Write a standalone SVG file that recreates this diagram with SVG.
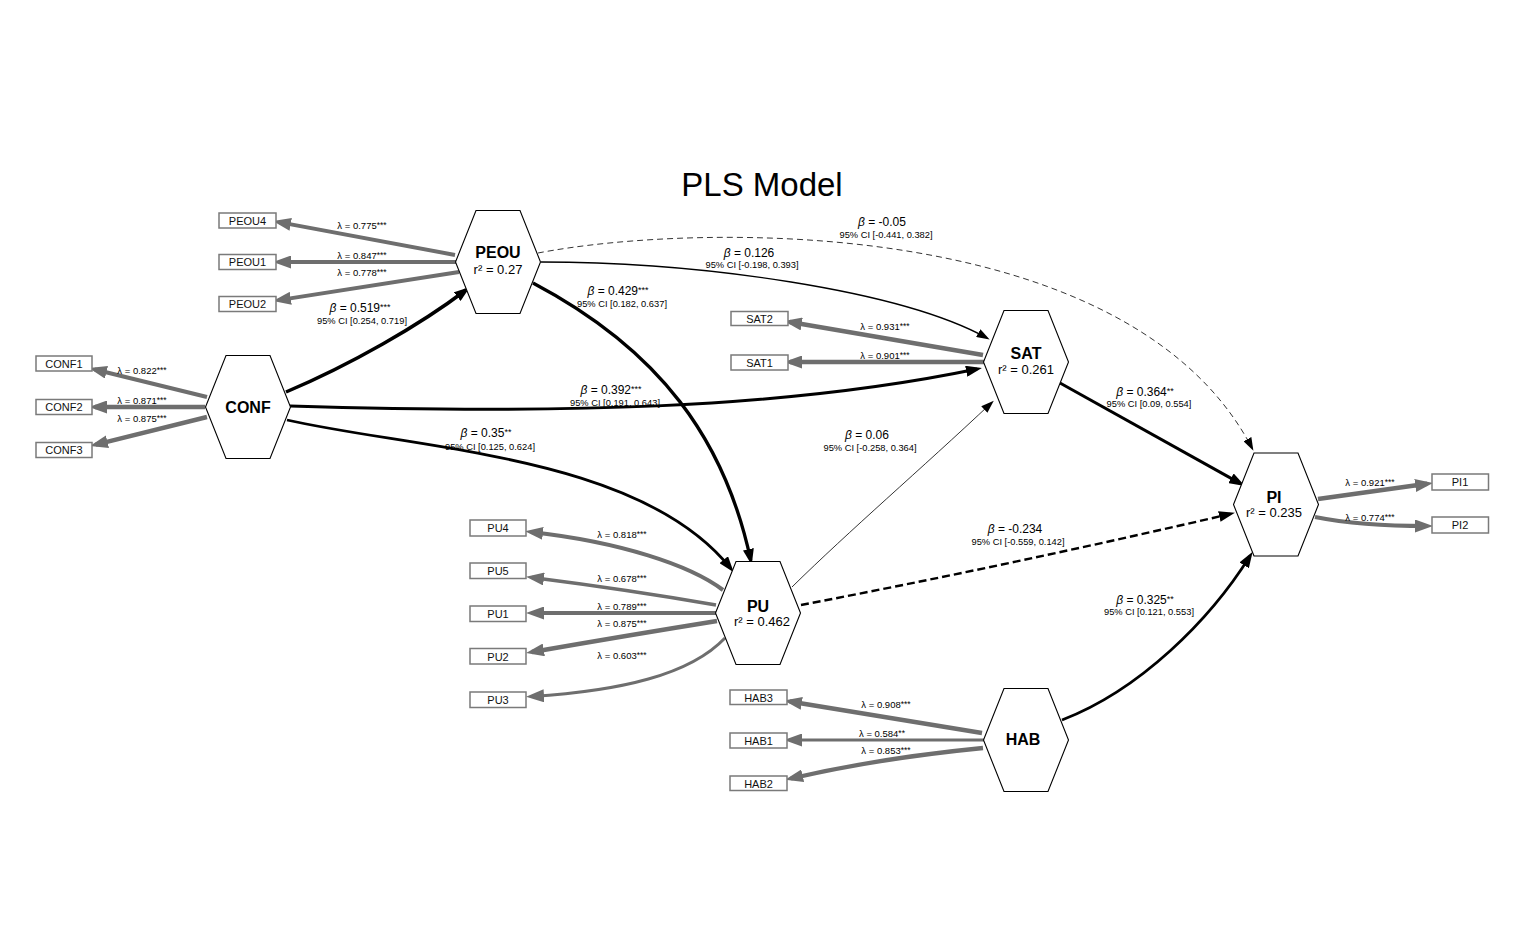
<svg xmlns="http://www.w3.org/2000/svg" width="1520" height="948" viewBox="0 0 1520 948">
<defs>
<style>
text{font-family:"Liberation Sans",Arial,Helvetica,sans-serif;fill:#000}
.title{font-size:33px}
.nm{font-size:16px;font-weight:bold;text-anchor:middle}
.r2{font-size:13px;text-anchor:middle}
.ind{font-size:11px;text-anchor:middle;fill:#111}
.lam{font-size:9.5px;text-anchor:middle}
.beta{font-size:12px;text-anchor:middle}
.ci{font-size:9.3px;text-anchor:middle}
.st{font-size:8.5px}
.hex{fill:#fff;stroke:#000;stroke-width:1.1}
.box{fill:#fff;stroke:#7a7a7a;stroke-width:1.5}
.ld{fill:none;stroke:#6e6e6e}
.sp{fill:none;stroke:#000}
.dash{stroke-dasharray:6,4}
</style>
<marker id="ga" markerUnits="userSpaceOnUse" markerWidth="18" markerHeight="13" refX="12" refY="6.5" orient="auto"><path d="M0,0 L18,6.5 L0,13 z" fill="#6e6e6e"/></marker>
<marker id="ba" markerUnits="userSpaceOnUse" markerWidth="16" markerHeight="11" refX="11" refY="5.5" orient="auto"><path d="M0,0 L16,5.5 L0,11 z" fill="#000"/></marker>
<marker id="bs" markerUnits="userSpaceOnUse" markerWidth="13" markerHeight="9" refX="10" refY="4.5" orient="auto"><path d="M0,0 L13,4.5 L0,9 z" fill="#000"/></marker>
</defs>
<rect width="1520" height="948" fill="#fff"/>
<text class="title" x="762" y="196" text-anchor="middle">PLS Model</text>

<g id="connectors">
<path class="ld" stroke-width="3.9" d="M455,255 L278.9,222.1" marker-end="url(#ga)"/>
<path class="ld" stroke-width="4.2" d="M456,262 L279,262" marker-end="url(#ga)"/>
<path class="ld" stroke-width="3.9" d="M459,272 L278.9,300.1" marker-end="url(#ga)"/>
<path class="ld" stroke-width="4.1" d="M207,397 L94.8,369.4" marker-end="url(#ga)"/>
<path class="ld" stroke-width="4.4" d="M205,407 L95,407" marker-end="url(#ga)"/>
<path class="ld" stroke-width="4.4" d="M207,417 L95.8,444.6" marker-end="url(#ga)"/>
<path class="ld" stroke-width="4.7" d="M983,355 L789.9,322" marker-end="url(#ga)"/>
<path class="ld" stroke-width="4.5" d="M984,362 L790,362" marker-end="url(#ga)"/>
<path class="ld" stroke-width="4.1" d="M723,590 C690,565 620,542 531,532" marker-end="url(#ga)"/>
<path class="ld" stroke-width="3.4" d="M716,605 Q630,590 532,577.5" marker-end="url(#ga)"/>
<path class="ld" stroke-width="3.9" d="M716,613 L532,613" marker-end="url(#ga)"/>
<path class="ld" stroke-width="4.4" d="M717,621 Q630,635 532,652" marker-end="url(#ga)"/>
<path class="ld" stroke-width="3" d="M725,638 C690,675 620,691 532,696.5" marker-end="url(#ga)"/>
<path class="ld" stroke-width="4.5" d="M982,733 L789.9,701.5" marker-end="url(#ga)"/>
<path class="ld" stroke-width="2.9" d="M984,740 L790,740" marker-end="url(#ga)"/>
<path class="ld" stroke-width="4.3" d="M983,748 Q880,758 791,778.5" marker-end="url(#ga)"/>
<path class="ld" stroke-width="4.6" d="M1318,499 L1427.1,483.8" marker-end="url(#ga)"/>
<path class="ld" stroke-width="3.9" d="M1315,517 C1345,523 1385,526 1427,526" marker-end="url(#ga)"/>
<path class="sp" stroke-width="3.5" d="M286,392 C350,365 420,325 466,290" marker-end="url(#ba)"/>
<path class="sp" stroke-width="3.3" d="M533,283 C660,350 725,440 750.7,560" marker-end="url(#ba)"/>
<path class="sp" stroke-width="3" d="M290,406 C550,414 780,410 977,369" marker-end="url(#ba)"/>
<path class="sp" stroke-width="2.8" d="M287,420 C420,450 640,455 730.6,568.3" marker-end="url(#ba)"/>
<path class="sp" stroke-width="1.3" d="M541,262 C700,262 900,290 987,338" marker-end="url(#bs)"/>
<path class="sp" stroke-width="0.8" d="M792,587 C850,530 920,470 991.6,402.7" marker-end="url(#bs)"/>
<path class="sp dash" stroke-width="0.8" d="M538,253 C700,222 1130,215 1252,448" marker-end="url(#bs)"/>
<path class="sp" stroke-width="2.4" stroke-dasharray="8,4" d="M801,605 Q1010,565 1230,514" marker-end="url(#ba)"/>
<path class="sp" stroke-width="3" d="M1060,383 L1240.6,483.6" marker-end="url(#ba)"/>
<path class="sp" stroke-width="2.7" d="M1062,720 C1140,690 1210,620 1250,556" marker-end="url(#ba)"/>
</g>

<g id="labels">
<text class="lam" x="362" y="229">λ = 0.775<tspan class="st" dy="-1.5">***</tspan></text>
<text class="lam" x="362" y="259">λ = 0.847<tspan class="st" dy="-1.5">***</tspan></text>
<text class="lam" x="362" y="276">λ = 0.778<tspan class="st" dy="-1.5">***</tspan></text>
<text class="lam" x="142" y="374">λ = 0.822<tspan class="st" dy="-1.5">***</tspan></text>
<text class="lam" x="142" y="404">λ = 0.871<tspan class="st" dy="-1.5">***</tspan></text>
<text class="lam" x="142" y="422">λ = 0.875<tspan class="st" dy="-1.5">***</tspan></text>
<text class="lam" x="885" y="330">λ = 0.931<tspan class="st" dy="-1.5">***</tspan></text>
<text class="lam" x="885" y="359">λ = 0.901<tspan class="st" dy="-1.5">***</tspan></text>
<text class="lam" x="622" y="538">λ = 0.818<tspan class="st" dy="-1.5">***</tspan></text>
<text class="lam" x="622" y="582">λ = 0.678<tspan class="st" dy="-1.5">***</tspan></text>
<text class="lam" x="622" y="610">λ = 0.789<tspan class="st" dy="-1.5">***</tspan></text>
<text class="lam" x="622" y="627">λ = 0.875<tspan class="st" dy="-1.5">***</tspan></text>
<text class="lam" x="622" y="659">λ = 0.603<tspan class="st" dy="-1.5">***</tspan></text>
<text class="lam" x="886" y="708">λ = 0.908<tspan class="st" dy="-1.5">***</tspan></text>
<text class="lam" x="882" y="737">λ = 0.584<tspan class="st" dy="-1.5">**</tspan></text>
<text class="lam" x="886" y="754">λ = 0.853<tspan class="st" dy="-1.5">***</tspan></text>
<text class="lam" x="1370" y="486">λ = 0.921<tspan class="st" dy="-1.5">***</tspan></text>
<text class="lam" x="1370" y="521">λ = 0.774<tspan class="st" dy="-1.5">***</tspan></text>

<text class="beta" x="360" y="312"><tspan font-style="italic">β</tspan> = 0.519<tspan font-size="9" dy="-2">***</tspan></text>
<text class="ci" x="362" y="324">95% CI [0.254, 0.719]</text>
<text class="beta" x="882" y="226"><tspan font-style="italic">β</tspan> = -0.05</text>
<text class="ci" x="886" y="238">95% CI [-0.441, 0.382]</text>
<text class="beta" x="749" y="257"><tspan font-style="italic">β</tspan> = 0.126</text>
<text class="ci" x="752" y="268">95% CI [-0.198, 0.393]</text>
<text class="beta" x="618" y="295"><tspan font-style="italic">β</tspan> = 0.429<tspan font-size="9" dy="-2">***</tspan></text>
<text class="ci" x="622" y="307">95% CI [0.182, 0.637]</text>
<text class="beta" x="611" y="394"><tspan font-style="italic">β</tspan> = 0.392<tspan font-size="9" dy="-2">***</tspan></text>
<text class="ci" x="615" y="406">95% CI [0.191, 0.643]</text>
<text class="beta" x="486" y="437"><tspan font-style="italic">β</tspan> = 0.35<tspan font-size="9" dy="-2">**</tspan></text>
<text class="ci" x="490" y="450">95% CI [0.125, 0.624]</text>
<text class="beta" x="867" y="439"><tspan font-style="italic">β</tspan> = 0.06</text>
<text class="ci" x="870" y="451">95% CI [-0.258, 0.364]</text>
<text class="beta" x="1145" y="396"><tspan font-style="italic">β</tspan> = 0.364<tspan font-size="9" dy="-2">**</tspan></text>
<text class="ci" x="1149" y="407">95% CI [0.09, 0.554]</text>
<text class="beta" x="1015" y="533"><tspan font-style="italic">β</tspan> = -0.234</text>
<text class="ci" x="1018" y="545">95% CI [-0.559, 0.142]</text>
<text class="beta" x="1145" y="604"><tspan font-style="italic">β</tspan> = 0.325<tspan font-size="9" dy="-2">**</tspan></text>
<text class="ci" x="1149" y="615">95% CI [0.121, 0.553]</text>
</g>

<g id="PEOU"><polygon class="hex" points="476,210.5 520,210.5 540.5,262 520,313.5 476,313.5 455.5,262"/><text class="nm" x="498" y="258">PEOU</text><text class="r2" x="498" y="274">r² = 0.27</text></g>
<g id="CONF"><polygon class="hex" points="226,355.5 270,355.5 290.5,407 270,458.5 226,458.5 205.5,407"/><text class="nm" x="248" y="412.5">CONF</text></g>
<g id="SAT"><polygon class="hex" points="1004,310.5 1048,310.5 1068.5,362 1048,413.5 1004,413.5 983.5,362"/><text class="nm" x="1026" y="359">SAT</text><text class="r2" x="1026" y="374">r² = 0.261</text></g>
<g id="PU"><polygon class="hex" points="736,561.5 780,561.5 800.5,613 780,664.5 736,664.5 715.5,613"/><text class="nm" x="758" y="612">PU</text><text class="r2" x="762" y="626">r² = 0.462</text></g>
<g id="PI"><polygon class="hex" points="1254,453 1298,453 1318.5,504.5 1298,556 1254,556 1233.5,504.5"/><text class="nm" x="1274" y="503">PI</text><text class="r2" x="1274" y="517">r² = 0.235</text></g>
<g id="HAB"><polygon class="hex" points="1004,688.5 1048,688.5 1068.5,740 1048,791.5 1004,791.5 983.5,740"/><text class="nm" x="1023" y="745">HAB</text></g>

<g id="PEOU4"><rect class="box" x="219" y="213" width="57" height="15"/><text class="ind" x="247.5" y="224.5">PEOU4</text></g>
<g id="PEOU1"><rect class="box" x="219" y="254.5" width="57" height="15"/><text class="ind" x="247.5" y="266">PEOU1</text></g>
<g id="PEOU2"><rect class="box" x="219" y="296.5" width="57" height="15"/><text class="ind" x="247.5" y="308">PEOU2</text></g>
<g id="CONF1"><rect class="box" x="36" y="356" width="56" height="15"/><text class="ind" x="64" y="367.5">CONF1</text></g>
<g id="CONF2"><rect class="box" x="36" y="399.5" width="56" height="15"/><text class="ind" x="64" y="411">CONF2</text></g>
<g id="CONF3"><rect class="box" x="36" y="442.5" width="56" height="15"/><text class="ind" x="64" y="454">CONF3</text></g>
<g id="SAT2"><rect class="box" x="731" y="311.5" width="57" height="14"/><text class="ind" x="759.5" y="322.5">SAT2</text></g>
<g id="SAT1"><rect class="box" x="731" y="355" width="57" height="15"/><text class="ind" x="759.5" y="366.5">SAT1</text></g>
<g id="PU4"><rect class="box" x="470" y="520" width="56" height="16"/><text class="ind" x="498" y="532">PU4</text></g>
<g id="PU5"><rect class="box" x="470" y="563" width="56" height="15.5"/><text class="ind" x="498" y="575">PU5</text></g>
<g id="PU1"><rect class="box" x="470" y="606" width="56" height="15.5"/><text class="ind" x="498" y="618">PU1</text></g>
<g id="PU2"><rect class="box" x="470" y="648.5" width="56" height="15.5"/><text class="ind" x="498" y="660.5">PU2</text></g>
<g id="PU3"><rect class="box" x="470" y="692" width="56" height="15.5"/><text class="ind" x="498" y="704">PU3</text></g>
<g id="HAB3"><rect class="box" x="730" y="690" width="57" height="14.5"/><text class="ind" x="758.5" y="701.5">HAB3</text></g>
<g id="HAB1"><rect class="box" x="730" y="733" width="57" height="15"/><text class="ind" x="758.5" y="744.5">HAB1</text></g>
<g id="HAB2"><rect class="box" x="730" y="776" width="57" height="14.5"/><text class="ind" x="758.5" y="787.5">HAB2</text></g>
<g id="PI1"><rect class="box" x="1432" y="474" width="56.5" height="16"/><text class="ind" x="1460" y="486">PI1</text></g>
<g id="PI2"><rect class="box" x="1432" y="517" width="56.5" height="16"/><text class="ind" x="1460" y="529">PI2</text></g>
</svg>
